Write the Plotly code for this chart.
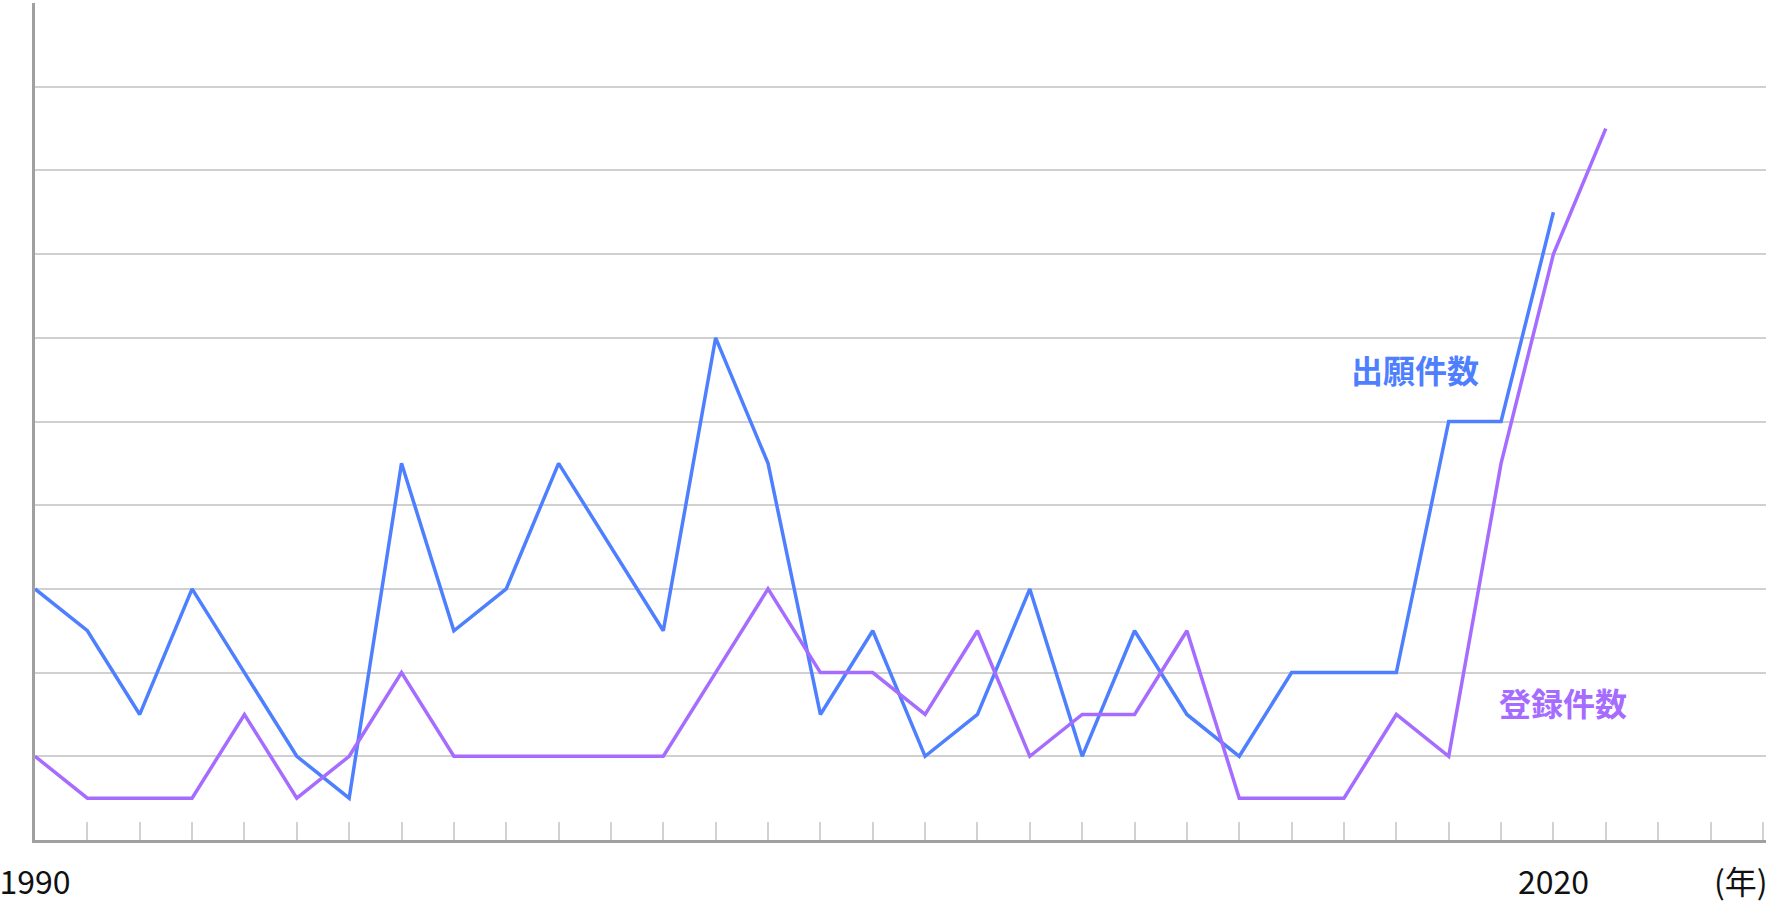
import plotly.graph_objects as go

years_app = list(range(1990, 2020))
applications = [3, 2.5, 1.5, 3, 2, 1, 0.5, 4.5, 2.5, 3, 4.5, 3.5, 2.5, 6, 4.5,
                1.5, 2.5, 1, 1.5, 3, 1, 2.5, 1.5, 1, 2, 2, 2, 5, 5, 7.5]
years_reg = list(range(1990, 2021))
registrations = [1, 0.5, 0.5, 0.5, 1.5, 0.5, 1, 2, 1, 1, 1, 1, 1, 2, 3,
                 2, 2, 1.5, 2.5, 1, 1.5, 1.5, 2.5, 0.5, 0.5, 0.5, 1.5, 1, 4.5, 7, 8.5]
tick_positions = [1990, 2019]
tick_labels = ["1990", "2020"]
series_names = ["出願件数", "登録件数"]
unit_label = "(年)"

BLUE = "#4d7fff"
PURPLE = "#a66cff"
FONT = "Noto Sans CJK JP"

fig = go.Figure()
fig.add_trace(go.Scatter(x=years_app, y=applications, mode="lines",
                         line=dict(color=BLUE, width=3.5), name=series_names[0]))
fig.add_trace(go.Scatter(x=years_reg, y=registrations, mode="lines",
                         line=dict(color=PURPLE, width=3.5), name=series_names[1]))

fig.add_annotation(x=2016.35, y=5.63, text="<b>" + series_names[0] + "</b>", showarrow=False,
                   font=dict(family=FONT, size=32, color=BLUE), xanchor="center", yanchor="middle")
fig.add_annotation(x=2019.18, y=1.65, text="<b>" + series_names[1] + "</b>", showarrow=False,
                   font=dict(family=FONT, size=32, color=PURPLE), xanchor="center", yanchor="middle")
fig.add_annotation(x=0.9855, xref="paper", y=-0.0478, yref="paper",
                   xanchor="center", yanchor="middle",
                   text=unit_label, showarrow=False,
                   font=dict(family=FONT, size=32, color="#111111"))

fig.update_layout(
    width=1773, height=901,
    margin=dict(l=35, r=7, t=3, b=61, autoexpand=False),
    paper_bgcolor="white", plot_bgcolor="white",
    showlegend=False,
    font=dict(family=FONT, size=32, color="#111111"),
)
fig.update_xaxes(range=[1990, 2023.06], showline=True, linecolor="#a0a0a0", linewidth=3,
                 showgrid=False, zeroline=False, automargin=False,
                 tickvals=tick_positions, ticktext=tick_labels,
                 ticks="inside", ticklen=18, tickwidth=2, tickcolor="#d2d2d2",
                 ticklabelstandoff=13, ticklabeloverflow="allow",
                 tickfont=dict(family=FONT, size=32, color="#111111"),
                 minor=dict(ticks="inside", ticklen=18, tickwidth=2, tickcolor="#d2d2d2",
                            dtick=1, tick0=1990))
fig.update_yaxes(range=[0, 10], showline=True, linecolor="#a0a0a0", linewidth=3,
                 showgrid=True, gridcolor="#d0d0d0", gridwidth=2, dtick=1,
                 zeroline=False, showticklabels=False, ticks="", automargin=False)

fig.write_html("out.html", config={"displayModeBar": False},
               post_script="document.body.style.margin='0';document.body.style.overflow='hidden';")
